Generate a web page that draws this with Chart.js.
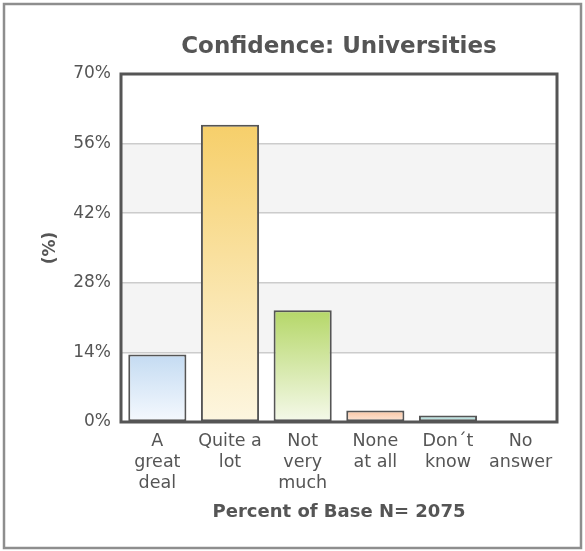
<!DOCTYPE html>
<html>
<head>
<meta charset="utf-8">
<title>Confidence: Universities</title>
<script src="https://cdn.jsdelivr.net/npm/chart.js@4"></script>
<style>
  html, body { margin: 0; padding: 0; background: #ffffff; }
  #wrap { width: 585px; height: 551px; position: relative; }
</style>
</head>
<body>
<div id="wrap"><canvas id="chart" width="585" height="551"></canvas></div>
<script>
// Survey answers and their share of the base (percent)
const categories = [
  ["A", "great", "deal"],
  ["Quite a", "lot"],
  ["Not", "very", "much"],
  ["None", "at all"],
  ["Don\u00b4t", "know"],
  ["No", "answer"]
];
const percentValues = [13.6, 59.8, 22.5, 2.3, 1.3, 0];
const yTicks = [0, 14, 28, 42, 56, 70];

const chartTitle = "Confidence: Universities";
const xTitle = "Percent of Base N= 2075";
const yTitle = "(%)";

// gradient stops per bar: [top, bottom]
const barGradients = [
  ["#c4dbf2", "#f5f9fe"],
  ["#f6cf6a", "#fdf6e0"],
  ["#b5d768", "#f5f9ea"],
  ["#fbc4a0", "#fde9dc"],
  ["#a4d9d5", "#d6eeec"],
  ["#dddddd", "#f5f5f5"]
];

const FONT = "'DejaVu Sans', Verdana, sans-serif";
const TEXT = "#555555";

const framePlugin = {
  id: "frame",
  beforeDraw(chart) {
    const { ctx, chartArea: a, scales } = chart;
    ctx.save();
    ctx.fillStyle = "#ffffff";
    ctx.fillRect(0, 0, chart.width, chart.height);
    // alternating bands between ticks
    const y = scales.y;
    for (let i = 0; i < yTicks.length - 1; i++) {
      if (i % 2 === 1) {
        const y0 = y.getPixelForValue(yTicks[i]);
        const y1 = y.getPixelForValue(yTicks[i + 1]);
        ctx.fillStyle = "#f4f4f4";
        ctx.fillRect(a.left, y1, a.right - a.left, y0 - y1);
      }
    }
    // outer frame
    ctx.strokeStyle = "#8e8e8e";
    ctx.lineWidth = 2.5;
    ctx.strokeRect(4, 4, chart.width - 8, chart.height - 7);
    // chart title centred over the plot
    ctx.fillStyle = TEXT;
    ctx.font = "bold 23px " + FONT;
    ctx.textAlign = "center";
    ctx.textBaseline = "middle";
    ctx.fillText(chartTitle, (a.left + a.right) / 2, 47);
    ctx.restore();
  },
  afterDraw(chart) {
    const { ctx, chartArea: a } = chart;
    ctx.save();
    ctx.strokeStyle = "#555555";
    ctx.lineWidth = 3;
    ctx.strokeRect(a.left, a.top, a.right - a.left, a.bottom - a.top);
    ctx.restore();
  }
};

function barFill(context) {
  const chart = context.chart;
  const i = context.dataIndex;
  const stops = barGradients[i % barGradients.length];
  if (!chart.chartArea || !chart.scales.y) return stops[0];
  const y = chart.scales.y;
  const top = y.getPixelForValue(percentValues[i]);
  const bottom = y.getPixelForValue(0);
  if (!(bottom > top)) return stops[0];
  const g = chart.ctx.createLinearGradient(0, top, 0, bottom);
  g.addColorStop(0, stops[0]);
  g.addColorStop(1, stops[1]);
  return g;
}

new Chart(document.getElementById("chart"), {
  type: "bar",
  data: {
    labels: categories,
    datasets: [{
      data: percentValues,
      backgroundColor: barFill,
      borderColor: "#555555",
      borderWidth: 2,
      borderSkipped: false,
      barPercentage: 0.8,
      categoryPercentage: 1.0
    }]
  },
  options: {
    responsive: false,
    animation: false,
    layout: { padding: { top: 74, right: 28, bottom: 19, left: 40 } },
    plugins: {
      legend: { display: false },
      title: { display: false },
      tooltip: { enabled: false }
    },
    scales: {
      x: {
        grid: { display: false, drawTicks: false },
        border: { display: false },
        ticks: {
          color: TEXT,
          font: { family: FONT, size: 17.5, lineHeight: 1.2 },
          padding: 9,
          maxRotation: 0,
          autoSkip: false
        },
        title: {
          display: true,
          text: xTitle,
          color: TEXT,
          font: { family: FONT, size: 18, weight: "bold", lineHeight: 1.2 },
          padding: { top: 0, bottom: 9 }
        },
        afterFit(scale) { scale.height = 110; }
      },
      y: {
        min: 0,
        max: 70,
        afterBuildTicks(scale) { scale.ticks = yTicks.map(v => ({ value: v })); },
        grid: { color: "#cccccc", lineWidth: 1.5, drawTicks: false },
        border: { display: false },
        ticks: {
          color: TEXT,
          font: { family: FONT, size: 17 },
          padding: 10,
          callback: v => v + "%"
        },
        title: {
          display: true,
          text: yTitle,
          color: TEXT,
          font: { family: FONT, size: 17, weight: "bold", lineHeight: 1.2 },
          padding: 0
        },
        afterFit(scale) { scale.width = 81; }
      }
    }
  },
  plugins: [framePlugin]
});
</script>
</body>
</html>
